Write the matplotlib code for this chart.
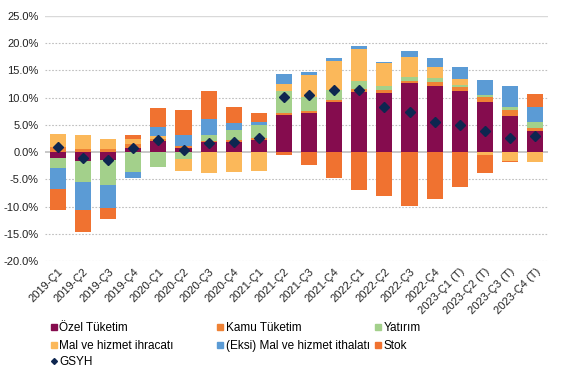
import numpy as np
import matplotlib
matplotlib.use('Agg')
import matplotlib.pyplot as plt
from matplotlib.lines import Line2D

plt.rcParams['font.family'] = ['Liberation Sans', 'DejaVu Sans']

quarters = ['2019-Ç1', '2019-Ç2', '2019-Ç3', '2019-Ç4',
            '2020-Ç1', '2020-Ç2', '2020-Ç3', '2020-Ç4',
            '2021-Ç1', '2021-Ç2', '2021-Ç3', '2021-Ç4',
            '2022-Ç1', '2022-Ç2', '2022-Ç3', '2022-Ç4',
            '2023-Ç1 (T)', '2023-Ç2 (T)', '2023-Ç3 (T)', '2023-Ç4 (T)']

# contributions to growth, % points
ozel = [-1.05, -1.6, -1.4, 0.8, 2.1, 0.8, 1.85, 1.9, 2.3, 6.9,
        7.1, 9.15, 11.0, 10.8, 12.65, 12.1, 11.15, 9.15, 6.7, 3.95]
kamu = [1.0, 0.6, 0.6, 0.6, 0.37, 0.37, 0.25, 0.37, 0.25, 0.37,
        0.37, 0.37, 0.55, 0.55, 0.37, 0.75, 0.75, 1.05, 0.95, 0.55]
yatirim = [-1.85, -3.9, -4.6, -3.65, -2.7, -1.35, 1.1, 1.85, 2.5, 4.0,
           2.7, 1.8, 1.5, 0.75, 0.75, 0.75, 0.4, 0.25, 0.55, 0.95]
ihracat = [2.4, 2.6, 1.85, 1.05, 0.55, -2.1, -3.8, -3.65, -3.45, 1.2,
           3.95, 5.45, 5.9, 4.25, 3.7, 2.05, 1.05, -0.5, -1.6, -1.8]
ithalat = [-3.95, -5.2, -4.25, -1.1, 1.55, 2.05, 2.85, 1.3, 0.55, 1.85,
           0.55, 0.55, 0.55, 0.2, 1.1, 1.65, 2.2, 2.8, 3.9, 2.8]
stok = [-3.8, -3.9, -2.05, 0.75, 3.45, 4.6, 5.1, 2.8, 1.5, -0.5,
        -2.35, -4.75, -7.0, -8.1, -9.95, -8.65, -6.4, -3.35, -0.2, 2.4]
gsyh = [0.85, -1.0, -1.4, 0.8, 2.3, 0.3, 1.7, 1.9, 2.65, 10.2,
        10.4, 11.35, 11.35, 8.2, 7.3, 5.6, 4.9, 3.95, 2.65, 3.0]

series = [
    ('Özel Tüketim', ozel, '#850C4E'),
    ('Kamu Tüketim', kamu, '#EF8235'),
    ('Yatırım', yatirim, '#A3D08B'),
    ('Mal ve hizmet ihracatı', ihracat, '#FBB85A'),
    ('(Eksi) Mal ve hizmet ithalatı', ithalat, '#5B9BD5'),
    ('Stok', stok, '#F07230'),
]
gsyh_color = '#0E2650'

fig = plt.figure(figsize=(5.62, 3.78), dpi=100)
ax = fig.add_axes([0.0808, 0.3095, 0.8936, 0.6482])

x = np.arange(len(quarters))
pos_base = np.zeros(len(x))
neg_base = np.zeros(len(x))
for name, vals, col in series:
    v = np.array(vals)
    bottom = np.where(v >= 0, pos_base, neg_base)
    ax.bar(x, v, bottom=bottom, width=0.64, color=col, zorder=2)
    pos_base += np.where(v >= 0, v, 0)
    neg_base += np.where(v < 0, v, 0)

ax.plot(x, gsyh, linestyle='none', marker='D', markersize=5,
        color=gsyh_color, zorder=3)

ax.set_xlim(-0.5, len(x) - 0.5)
ax.set_ylim(-20, 25)
yt = np.arange(-20, 26, 5)
ax.set_yticks(yt)
ax.set_yticklabels(['%.1f%%' % t for t in yt], fontsize=8, color='#222222')
for t in yt:
    if t == 0:
        ax.axhline(t, color='#BFBFBF', lw=1.2, zorder=1)
    elif t == 25:
        ax.axhline(t, color='#D9D9D9', lw=1.0, zorder=1)
    else:
        ax.axhline(t, color='#BFBFBF', lw=0.8, ls=(0, (1.5, 1.5)), zorder=1)
ax.tick_params(axis='y', length=0, pad=5)
ax.set_xticks(x)
ax.set_xticklabels(quarters, rotation=45, ha='right', rotation_mode='anchor',
                   fontsize=8, color='#222222')
ax.tick_params(axis='x', length=0, pad=4)
for s in ax.spines.values():
    s.set_visible(False)

def handle(col, m='s', ms=4.5):
    return Line2D([], [], linestyle='none', marker=m, markersize=ms,
                  markerfacecolor=col, markeredgecolor=col)

cols = [
    ([series[0], series[3]], 0.090),
    ([series[1], series[4]], 0.387),
    ([series[2], series[5]], 0.667),
]
for items, xpos in cols:
    fig.legend([handle(c) for _, _, c in items], [n for n, _, _ in items],
               loc='upper left', bbox_to_anchor=(xpos, 0.147), frameon=False,
               fontsize=8.5, handlelength=0.5, handletextpad=0.25,
               labelspacing=0.5, borderpad=0, borderaxespad=0)
fig.legend([handle(gsyh_color, 'D', 3)], ['GSYH'], loc='upper left',
           bbox_to_anchor=(0.090, 0.057), frameon=False, fontsize=8.5,
           handlelength=0.5, handletextpad=0.25, borderpad=0, borderaxespad=0)
fig.savefig('out.png', dpi=100)
